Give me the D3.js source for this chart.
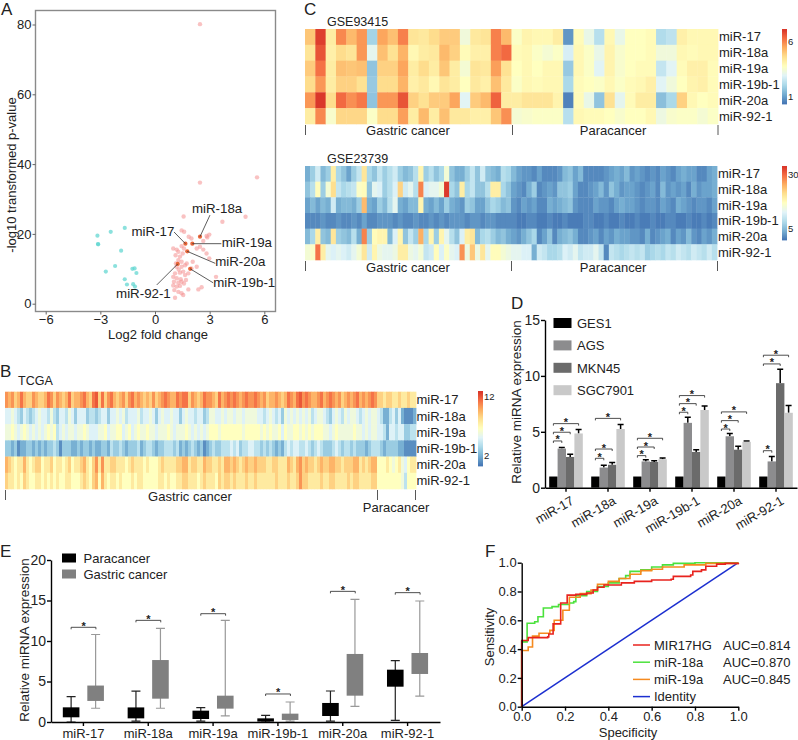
<!DOCTYPE html>
<html><head><meta charset="utf-8">
<script src="https://cdn.jsdelivr.net/npm/d3@7/dist/d3.min.js"></script>
<style>html,body{margin:0;padding:0;background:#fff}svg{display:block}
text{font-family:"Liberation Sans",Arial,sans-serif;fill:#222}</style></head><body>
<div id="c"></div>
<script>
// ---------- data ----------
const volcanoDownX=[-3.16,-3.13,-3.12,-2.43,-1.66,-1.86,-2.19,-2.7,-1.24,-1.12,-1.02,-1.66,-1.54,-1.2,-1.1];
const volcanoDownY=[19.5,17.1,17.0,20.6,21.7,15.2,10.8,9.2,10,10.1,8.8,7,5.5,5.6,4.9];
const volcanoUpX=[2.47,2.47,5.6,4.97,3.7,1.57,3.35,2.56,2.38,1.46,1.6,1.85,2.0,2.65,2.83,2.98,2.87,2.29,2.47,2.65,2.83,2.98,1.0,1.19,1.28,1.13,1.37,1.52,1.59,1.46,1.19,1.3,1.46,1.65,1.1,1.37,1.55,1.83,1.0,1.19,1.41,1.65,1.04,1.28,1.46,1.7,1,1.19,1.37,1.59,1.06,1.28,1.46,1.1,1.55,1.83,2.07,2.29,1.46,1.28,1.74,2,1.15];
const volcanoUpY=[80.1,34.7,36.2,24.9,23.5,25,7.7,4.7,4.1,21,20.6,19.2,18.7,18,19.4,19.8,19,15.8,16.3,15.5,14.4,13,15.8,15.5,14.9,13.9,13.5,14.4,15.8,16.5,10.6,9.8,10.6,11,8.7,8.9,9.2,8.7,7.7,7.3,7,8.2,6.3,6,6.3,6.8,5.2,4.9,5.1,5.8,3.9,3.4,3,1.7,2.5,4.1,12,10.6,12,12.5,11.5,10.1,11.5];
const mirNames=["miR-17","miR-18a","miR-19a","miR-19b-1","miR-20a","miR-92-1"];
const highlightX=[1.67,2.47,2.05,1.93,1.77,1.25];
const highlightY=[17.2,19.2,17.2,10,15,11.4];

const tcga17=[11,10,11,9,10,12,10,9,9,11,10,9,9,10,12,11,9,11,10,9,10,12,9,10,10,11,12,10,9,12,13,9,12,9,11,12,10,9,10,11,9,11,12,10,11,10,9,10,9,11,9,10,11,12,11,10,10,12,11,12,12,9,11,10,9,10,12,11,11,10,9,12,10,11,12,11,12,11,10,11,12,11,11,12,11,10,11,9,10,10,11,10,9,10,12,11,10,12,13,11,12,11,10,10,11,12,10,11,12,11,10,11,9,10,11,10,11,12,10,11,10,11,12,11,9,9,8,9,9,8,8,9,8,8,9,8,8];
const tcga18a=[5,5,6,5,4,3,5,4,3,4,5,6,5,5,4,6,4,3,5,5,4,6,5,3,5,5,5,3,4,4,3,4,5,5,3,5,5,6,5,6,4,5,5,5,6,4,5,5,6,5,3,5,6,5,5,6,5,5,3,5,6,5,5,4,5,5,3,4,6,6,5,5,6,5,6,6,5,6,6,5,6,6,6,6,5,5,4,5,6,5,4,5,3,6,5,6,5,6,5,6,5,6,4,5,6,6,5,4,3,5,6,5,4,6,5,6,6,5,4,5,6,5,6,6,5,4,2,2,4,5,3,5,2,1,1,1,2];
const tcga19a=[6,6,7,6,5,6,7,6,5,6,5,6,5,6,7,6,7,4,5,6,5,6,6,5,6,6,7,6,5,5,5,6,6,7,5,6,6,7,7,5,6,7,5,6,7,6,6,7,6,6,5,6,6,6,7,6,5,6,6,6,7,6,5,6,5,6,5,6,7,7,7,6,7,7,7,7,7,7,7,6,7,7,7,7,7,6,7,6,7,6,6,7,5,7,6,6,7,7,6,7,6,7,6,7,7,7,6,6,5,6,7,6,6,6,6,6,7,6,6,5,6,5,6,6,5,5,4,2,5,5,4,5,5,3,3,4,4];
const tcga19b1=[3,3,2,3,1,2,2,3,3,2,3,2,3,2,3,3,4,3,1,3,3,3,2,2,3,2,3,3,2,3,2,2,3,3,2,4,3,3,4,3,2,3,3,3,4,2,3,4,4,3,2,3,3,4,4,4,3,4,2,3,2,3,4,3,2,3,1,2,3,4,3,3,4,4,4,5,4,5,3,4,4,5,5,4,4,3,4,3,4,3,2,3,2,4,5,4,5,5,4,4,5,4,3,4,5,4,3,3,3,4,5,4,3,4,4,3,4,3,3,3,2,3,4,4,4,3,2,3,3,3,3,2,2,1,1,1,1];
const tcga20a=[10,9,8,7,8,8,10,8,7,8,9,9,7,8,8,9,7,8,8,7,8,9,7,8,8,9,10,8,7,9,11,8,11,8,8,9,9,8,8,8,7,8,9,8,8,8,7,8,7,7,7,8,9,8,8,8,8,9,9,10,10,8,9,9,8,8,10,9,9,8,8,9,8,10,10,9,10,9,8,9,10,9,9,10,9,9,9,8,8,9,9,8,8,8,10,9,8,10,11,9,10,9,9,8,9,10,9,9,10,10,9,9,8,9,9,9,10,10,8,9,8,9,10,10,7,7,7,8,7,6,7,8,6,5,7,8,8];
const tcga92=[9,8,8,7,8,7,9,8,7,7,8,8,7,8,7,8,7,8,7,7,8,8,7,7,7,8,9,8,7,9,10,7,10,8,7,8,8,7,8,7,7,7,8,7,8,8,7,7,7,7,7,8,8,7,8,7,7,8,8,9,9,8,8,8,7,8,9,8,8,8,7,9,8,9,9,8,9,8,8,8,9,8,8,9,8,8,8,8,8,8,9,8,8,8,9,8,8,9,11,9,9,8,8,8,8,9,8,8,9,9,8,8,8,8,9,8,9,9,8,8,8,8,9,9,7,7,7,7,7,7,7,7,6,4,7,7,7];

const g93_17=[5.0,6.9,4.2,5.9,5.2,5.7,1.9,5.5,5.1,6.0,4.4,4.3,4.6,4.9,4.9,3.3,4.3,4.4,6.0,5.2,3.6,4.0,3.9,3.9,4.2,0.8,3.8,3.1,2.2,3.9,3.1,3.7,3.7,3.8,2.1,2.3,4.1,3.9,3.9,3.9];
const g93_18a=[4.4,6.6,4.1,4.6,4.4,5.7,3.0,5.1,4.5,5.3,3.9,4.2,4.3,5.2,4.8,3.8,4.1,4.1,6.0,6.3,3.8,3.9,3.6,3.4,3.6,2.7,3.9,3.6,3.1,4.0,3.5,3.7,3.7,3.8,3.3,3.3,3.9,3.8,3.9,3.9];
const g93_19a=[4.9,6.2,4.2,5.1,5.0,5.1,1.6,4.8,4.8,5.5,4.2,4.6,4.2,5.0,4.2,3.4,4.4,4.3,5.6,4.5,3.7,3.9,3.7,3.9,3.9,1.7,3.9,3.6,2.9,4.0,3.5,3.7,3.8,3.8,2.4,2.9,3.8,4.1,4.1,3.8];
const g93_19b1=[4.6,5.7,4.2,4.8,4.8,4.5,1.7,4.6,4.6,5.3,4.1,4.3,3.9,4.4,4.2,3.7,4.3,4.1,5.1,4.3,3.6,3.9,3.8,3.9,3.9,2.0,3.8,3.7,3.6,3.9,3.6,3.8,3.9,4.1,2.9,3.3,3.7,4.0,4.1,3.8];
const g93_20a=[5.7,7.0,4.6,6.3,5.8,6.1,1.6,5.7,5.7,6.6,4.8,4.5,4.9,4.9,5.5,2.9,4.9,5.2,6.4,4.2,4.2,4.4,4.4,4.4,4.0,0.5,3.8,3.1,1.6,4.5,3.0,3.8,4.2,4.2,1.5,2.0,4.8,3.9,3.7,3.8];
const g93_92=[4.2,5.9,3.5,4.7,4.7,4.7,3.6,4.6,4.6,5.6,4.2,5.2,4.2,5.1,4.3,4.3,4.1,4.1,5.0,5.8,3.4,3.5,3.6,3.6,3.6,2.2,3.9,3.8,3.8,3.7,3.5,3.7,3.7,3.9,3.2,3.5,3.6,3.6,3.4,3.6];

const g23_17=[4,7,11,5,7,19,8,6,3,7,10,20,8,6,10,7,9,11,7,5,6,9,18,7,9,6,8,15,6,4,4,7,10,6,11,6,5,4,9,8,5,3,2,2,1,3,1,1,1,2,5,6,3,5,1,1,1,1,2,3,4,3,5,2,3,2,1,2,1,3,2,1,3,4,3,3,1,1,3,4];
const g23_18a=[6,9,17,7,15,21,10,8,9,10,16,17,6,13,12,7,9,12,22,11,13,9,28,12,13,13,15,33,8,6,19,8,10,6,6,9,19,19,8,6,3,2,1,4,7,1,2,3,2,6,6,7,3,1,1,2,3,5,2,6,4,2,3,3,2,1,2,3,1,5,2,3,2,3,1,4,2,3,3,4];
const g23_19a=[3,5,3,5,4,11,4,5,5,4,7,24,4,3,7,5,9,13,4,3,5,5,18,4,3,5,3,7,4,3,2,7,6,3,3,6,8,7,5,6,2,1,3,2,3,1,1,4,3,4,5,6,2,1,1,1,3,2,2,1,3,4,3,3,2,1,2,2,1,3,2,1,4,3,2,1,2,2,1,3];
const g23_19b1=[1,1,1,2,1,1,2,1,1,2,1,3,1,1,2,2,2,1,2,1,1,2,1,1,2,1,2,1,2,2,2,1,2,2,1,2,2,1,1,1,1,0,0,1,1,0,0,1,0,0,1,0,0,0,1,1,0,0,1,0,0,1,0,0,1,0,0,1,0,0,1,1,0,0,1,0,0,1,0,1];
const g23_20a=[5,8,19,6,5,20,7,6,5,9,4,28,7,17,18,18,5,12,18,6,10,7,25,8,18,7,18,13,9,6,12,19,20,5,8,9,7,5,6,4,3,2,4,6,8,1,3,6,1,4,5,6,4,1,1,2,3,1,3,2,4,3,3,2,2,1,4,1,2,3,4,1,3,2,5,2,1,3,2,4];
const g23_92=[15,16,29,19,13,12,13,12,11,13,15,20,11,18,14,13,13,14,19,19,14,13,15,10,11,17,12,16,13,12,27,14,23,14,20,13,17,17,15,14,13,13,12,12,4,11,10,8,8,9,12,11,13,10,11,11,13,10,1,10,9,8,9,10,9,10,7,8,9,8,10,9,11,10,9,11,10,9,11,9];

const heatColors=["#4575b4","#74add1","#abd9e9","#e0f3f8","#ffffbf","#fee090","#fdae61","#f46d43","#d73027"];
const tcgaStops=[.3,1.89,3.48,5.06,7,8.5,10.2,12.2,14.5];

const cellSeries=["GES1","AGS","MKN45","SGC7901"];
const cellGES1=[1,1,1,1,1,1];
const cellAGS=[3.5,1.8,2.35,5.8,4.6,2.35];
const cellMKN45=[2.75,2.05,2.3,3.2,3.4,9.35];
const cellSGC=[4.85,5.25,2.55,6.95,4.1,6.7];
const errGES1=[0,0,0,0,0,0];
const errAGS=[.1,.2,.15,.5,.25,.45];
const errMKN45=[.25,.2,.12,.2,.3,1.25];
const errSGC=[.35,.4,.1,.35,.07,.65];
const cellBracketA=[4.18,2.63,2.87,6.75,5.25,3.31];
const cellBracketB=[4.96,3.46,3.64,7.52,6,11.07];
const cellBracketC=[5.73,6.2,4.42,8.24,6.78,11.85];
const cellTicks=[0,5,10,15];

const boxParaHi=[3.13,3.8,1.77,.82,3.83,7.57];
const boxParaQ3=[1.81,1.8,1.4,.45,2.35,6.46];
const boxParaQ1=[.58,.45,.37,.05,.74,4.36];
const boxParaLo=[0,.1,.1,0,.1,.2];
const boxGasHi=[10.8,11.56,12.55,2.47,15.14,14.94];
const boxGasQ3=[4.5,7.65,3.25,1.03,8.4,8.52];
const boxGasQ1=[2.6,2.88,1.65,.25,3.25,5.93];
const boxGasLo=[1.7,1.7,.75,.12,1.93,3.2];
const boxBracket=[11.69,12.55,13.37,3.46,16.13,15.97];
const boxTicks=[0,5,10,15,20];

const rocRedX=[0,0,.03,.03,.08,.12,.125,.145,.145,.18,.18,.21,.21,.25,.3,.33,.35,.38,.46,.46,.52,.6,.69,.7,.78,.79,.83,.85,.9,.94,1];
const rocRedY=[0,.46,.46,.48,.48,.485,.505,.505,.575,.575,.72,.72,.775,.78,.79,.81,.83,.845,.845,.86,.87,.88,.885,.905,.915,.94,.95,.975,.99,.995,1];
const rocGreenX=[0,0,.02,.025,.06,.075,.095,.1,.14,.17,.22,.24,.25,.3,.35,.4,.45,.48,.5,.55,.6,.65,.7,.8,1];
const rocGreenY=[0,.45,.45,.58,.59,.625,.625,.685,.695,.71,.72,.73,.77,.8,.835,.86,.89,.91,.94,.95,.97,.985,.995,1,1];
const rocOrangeX=[0,0,.03,.03,.05,.05,.08,.13,.15,.18,.19,.22,.22,.27,.32,.35,.4,.45,.5,.55,.6,.65,.75,.85,1];
const rocOrangeY=[0,.39,.39,.415,.42,.49,.51,.53,.6,.6,.67,.69,.76,.785,.81,.85,.87,.89,.92,.945,.955,.97,.985,.995,1];
const rocTicks=[0,.2,.4,.6,.8,1];
const rocLabels=["MIR17HG","miR-18a","miR-19a","Identity"];
const rocAuc=["AUC=0.814","AUC=0.870","AUC=0.845",""];

// ---------- helpers ----------
const svg=d3.select("#c").append("svg").attr("width",798).attr("height",740);
const defs=svg.append("defs");
defs.append("filter").attr("id","hb").attr("x","-2%").attr("width","104%").append("feGaussianBlur").attr("stdDeviation","0.7 0");
const txt=(x,y,s,size=13,anchor="start",g=svg)=>g.append("text").attr("x",x).attr("y",y).attr("font-size",size).attr("text-anchor",anchor).text(s);
const vtxt=(x,y,s,size=13)=>svg.append("text").attr("transform",`translate(${x},${y}) rotate(-90)`).attr("font-size",size).attr("text-anchor","middle").text(s);
function styleAxis(g,size=13,col="#000",w=1.4){
  g.selectAll("path,line").attr("stroke",col).attr("stroke-width",w);
  g.selectAll("text").attr("font-size",size).attr("fill","#222").attr("font-family",'"Liberation Sans",Arial,sans-serif');
}
[["A",1,14.5],["B",0,377],["C",304,15],["D",511,309],["E",0,557],["F",485,557]].forEach(d=>txt(d[1],d[2],d[0],17));

// ---------- A volcano ----------
(function(){
  const x=d3.scaleLinear([-6,6],[45.7,264.3]), y=d3.scaleLinear([0,80],[303.7,24.5]);
  const fx0=35.5,fx1=275.5,fy0=10.5,fy1=311.5;
  svg.append("rect").attr("x",fx0).attr("y",fy0).attr("width",fx1-fx0).attr("height",fy1-fy0).attr("fill","none").attr("stroke","#8a8a8a").attr("stroke-width",1.4);
  const ax=svg.append("g").attr("transform",`translate(0,${fy1})`).call(d3.axisBottom(x).tickValues([-6,-3,0,3,6]).tickSize(3).tickPadding(0).tickSizeOuter(0).tickFormat(d3.format("d")));
  ax.select(".domain").remove(); styleAxis(ax,13,"#666",1);
  const ay=svg.append("g").attr("transform",`translate(${fx0},0)`).call(d3.axisLeft(y).tickValues([0,20,40,60,80]).tickSize(3).tickPadding(1).tickFormat(d3.format("d")));
  ay.select(".domain").remove(); styleAxis(ay,13,"#666",1);
  txt(158,338.5,"Log2 fold change",13,"middle"); vtxt(16,175,"-log10 transformed p-value",13);
  svg.append("g").selectAll("circle").data(volcanoDownX).join("circle").attr("cx",d=>x(d)).attr("cy",(d,i)=>y(volcanoDownY[i])).attr("r",2.1).attr("fill","#5ed6d0").attr("opacity",.72);
  svg.append("g").selectAll("circle").data(volcanoUpX).join("circle").attr("cx",d=>x(d)).attr("cy",(d,i)=>y(volcanoUpY[i])).attr("r",2.2).attr("fill","#f48f8f").attr("opacity",.55);
  svg.append("g").selectAll("circle").data(highlightX).join("circle").attr("cx",d=>x(d)).attr("cy",(d,i)=>y(highlightY[i])).attr("r",2.1).attr("fill","#e8663a");
  // label offsets relative to each highlighted point: leader start dx,dy ; text dx,dy ; anchor
  const labelLayout={"miR-17":[-11.4,-11.7,-11,-7.5,"end"],"miR-18a":[10,-21.6,-8,-23.6,"start"],"miR-19a":[29,0,29.4,3.5,"start"],"miR-20a":[28,12,28,14.7,"start"],"miR-19b-1":[23,14,23,18,"start"],"miR-92-1":[-21,21,-7,34,"end"]};
  mirNames.forEach((n,i)=>{const L=labelLayout[n],px=x(highlightX[i]),py=y(highlightY[i]);
    svg.append("line").attr("x1",px+L[0]).attr("y1",py+L[1]).attr("x2",px).attr("y2",py).attr("stroke","#333").attr("stroke-width",.8);
    txt(px+L[2],py+L[3],n,13.3,L[4]);});
})();

// ---------- heatmaps ----------
function heatmap(rows,x0,x1,y0,y1,domain,opts){
  const n=rows[0].length;
  const x=d3.scaleBand(d3.range(n),[x0,x1]), y=d3.scaleBand(mirNames,[y0,y1]);
  const stops=d3.range(heatColors.length).map(i=>domain[0]+(domain[1]-domain[0])*i/(heatColors.length-1));
  const legendCol=d3.scaleLinear(stops,heatColors).clamp(true);
  const col=d3.scaleLinear(opts.stops||stops,heatColors).clamp(true);
  const host=svg.append("g").attr("filter",opts.blur?"url(#hb)":null);
  mirNames.forEach((m,r)=>{
    host.append("g").selectAll("rect").data(rows[r]).join("rect").attr("x",(d,i)=>x(i)).attr("y",y(m)).attr("width",x.bandwidth()+.4).attr("height",y.bandwidth()+.3).attr("fill",d=>col(d));
    txt(x1+opts.labelGap,y(m)+y.bandwidth()/2+4.5,m,opts.labelSize||13);
  });
  const ly=d3.scaleLinear(domain,[opts.ly1,opts.ly0]);
  svg.append("g").selectAll("rect").data(d3.range(domain[0],domain[1],(domain[1]-domain[0])/75)).join("rect").attr("x",opts.lx).attr("width",5).attr("y",d=>ly(d)-1).attr("height",1.4).attr("fill",d=>legendCol(d));
  opts.legendTicks.forEach(t=>txt(opts.lx+6,ly(t)+3.5,t,9.5));
  return x;
}
heatmap([tcga17,tcga18a,tcga19a,tcga19b1,tcga20a,tcga92],5,416,391.7,489,[.3,13],{labelGap:.5,lx:478,ly0:391,ly1:466,legendTicks:[12,2],stops:tcgaStops,blur:true});
heatmap([g93_17,g93_18a,g93_19a,g93_19b1,g93_20a,g93_92],305,718,29,124,[.3,7.1],{labelGap:1,lx:782,ly0:29,ly1:104,legendTicks:[6,1]});
heatmap([g23_17,g23_18a,g23_19a,g23_19b1,g23_20a,g23_92],305,717,166,260,[-.5,33.7],{labelGap:1,lx:782,ly0:166,ly1:240,legendTicks:[30,5]});
txt(18,385,"TCGA",12.5); txt(327,26,"GSE93415",12.5); txt(327,163,"GSE23739",12.5);
function ticks(xs,y0,y1){xs.forEach(v=>svg.append("line").attr("x1",v).attr("x2",v).attr("y1",y0).attr("y2",y1).attr("stroke","#444").attr("stroke-width",.9));}
ticks([5.5,377.5,415.5],490,500); txt(190,501,"Gastric cancer",13,"middle"); txt(396,512,"Paracancer",13,"middle");
ticks([305.5,512.5,718],125,135); txt(408,135,"Gastric cancer",13,"middle"); txt(613,135,"Paracancer",13,"middle");
ticks([305.5,511.5,717.5],261,271); txt(408,272,"Gastric cancer",13,"middle"); txt(613,272,"Paracancer",13,"middle");

function bracket(x0,x1,yy,g=svg){
  g.append("path").attr("d",`M${x0},${yy+2}V${yy}H${x1}V${yy+2}`).attr("fill","none").attr("stroke","#222").attr("stroke-width",.8);
  g.append("text").attr("x",(x0+x1)/2).attr("y",yy+2.5).attr("font-size",11).attr("text-anchor","middle").attr("font-weight","bold").text("*");
}

// ---------- D bars ----------
(function(){
  const x=d3.scaleBand(mirNames,[545,797]), y=d3.scaleLinear([0,15],[487.7,320]);
  const off=d3.scaleBand(cellSeries,[-16.8,16.8]);
  const colors=d3.scaleOrdinal(cellSeries,["#000","#8c8c8e","#6b6b6b","#c9c9c9"]);
  const vals=[cellGES1,cellAGS,cellMKN45,cellSGC], errs=[errGES1,errAGS,errMKN45,errSGC];
  cellSeries.forEach((s,k)=>{
    mirNames.forEach((m,i)=>{
      const cx=x(m)+x.bandwidth()/2, bx=cx+off(s), mid=bx+off.bandwidth()/2;
      if(errs[k][i]>0){
        svg.append("path").attr("d",`M${mid},${y(vals[k][i])}V${y(vals[k][i]+errs[k][i])}M${mid-3},${y(vals[k][i]+errs[k][i])}H${mid+3}`).attr("stroke","#000").attr("stroke-width",1.5).attr("fill","none");
      }
      svg.append("rect").attr("x",bx).attr("y",y(vals[k][i])).attr("width",off.bandwidth()).attr("height",y(0)-y(vals[k][i])).attr("fill",colors(s));
    });
  });
  mirNames.forEach((m,i)=>{
    const cx=x(m)+x.bandwidth()/2, c=s=>cx+off(s)+off.bandwidth()/2;
    bracket(c("GES1"),c("AGS"),y(cellBracketA[i]));
    bracket(c("GES1"),c("MKN45"),y(cellBracketB[i]));
    bracket(c("GES1"),c("SGC7901"),y(cellBracketC[i]));
  });
  const ax=svg.append("g").attr("transform",`translate(0,${y(0)})`).call(d3.axisBottom(x).tickSize(4).tickSizeOuter(0));
  styleAxis(ax,13);
  ax.selectAll("text").attr("text-anchor","end").attr("transform","translate(2,4) rotate(-30)").attr("dy","0.5em");
  const ay=svg.append("g").attr("transform","translate(545,0)").call(d3.axisLeft(y).tickValues(cellTicks).tickSize(4).tickSizeOuter(0).tickPadding(1));
  styleAxis(ay,14);
  vtxt(521,402,"Relative miRNA expression",13.5);
  cellSeries.forEach((s,i)=>{
    const yy=318+22.4*i;
    svg.append("rect").attr("x",553.5).attr("y",yy).attr("width",18).attr("height",10).attr("fill",colors(s));
    txt(577,yy+10,s,13);
  });
})();

// ---------- E box plot ----------
(function(){
  const x=d3.scaleBand(mirNames,[51,440]), y=d3.scaleLinear([0,20],[722,560]);
  function box(m,dx,hi,q3,q1,lo,col,whisk){
    const c=x(m)+x.bandwidth()/2+dx;
    svg.append("path").attr("d",`M${c},${y(hi)}V${y(lo)}M${c-4.5},${y(hi)}H${c+4.5}M${c-4.5},${y(lo)}H${c+4.5}`).attr("stroke",whisk).attr("stroke-width",1.2).attr("fill","none");
    svg.append("rect").attr("x",c-8.3).attr("width",16.6).attr("y",y(q3)).attr("height",y(q1)-y(q3)).attr("fill",col);
  }
  mirNames.forEach((m,i)=>{
    box(m,-12.3,boxParaHi[i],boxParaQ3[i],boxParaQ1[i],boxParaLo[i],"#000","#222");
    box(m,12.2,boxGasHi[i],boxGasQ3[i],boxGasQ1[i],boxGasLo[i],"#808080","#999");
    const c=x(m)+x.bandwidth()/2; bracket(c-12.3,c+12.5,y(boxBracket[i]));
  });
  const ax=svg.append("g").attr("transform",`translate(0,${y(0)})`).call(d3.axisBottom(x).tickSize(4).tickSizeOuter(0).tickPadding(3));
  styleAxis(ax,13);
  const ay=svg.append("g").attr("transform","translate(51,0)").call(d3.axisLeft(y).tickValues(boxTicks).tickSize(4).tickSizeOuter(0).tickPadding(1));
  styleAxis(ay,14);
  vtxt(29,640,"Relative miRNA expression",13.5);
  [["Paracancer","#000",553.5,563],["Gastric cancer","#808080",569.5,578.5]].forEach(d=>{
    svg.append("rect").attr("x",62).attr("y",d[2]).attr("width",14).attr("height",9).attr("fill",d[1]);
    txt(83.5,d[3],d[0],13);
  });
})();

// ---------- F ROC ----------
(function(){
  const x=d3.scaleLinear([0,1],[521.7,738.3]), y=d3.scaleLinear([0,1],[706.7,562.7]);
  const line=d3.line().x(d=>x(d[0])).y(d=>y(d[1]));
  const cols=["#e8231e","#4be23c","#f58a1f","#1c2fd0"];
  svg.append("path").attr("d",line([[0,0],[1,1]])).attr("stroke",cols[3]).attr("stroke-width",1.5).attr("fill","none");
  const step=d3.line().x(d=>x(d[0])).y(d=>y(d[1])).curve(d3.curveStepAfter);
  [[rocGreenX,rocGreenY,1],[rocOrangeX,rocOrangeY,2],[rocRedX,rocRedY,0]].forEach(s=>{
    svg.append("path").attr("d",step(s[0].map((v,i)=>[v,s[1][i]]))).attr("stroke",cols[s[2]]).attr("stroke-width",1.6).attr("fill","none");
  });
  const ax=svg.append("g").attr("transform",`translate(0,${y(0)})`).call(d3.axisBottom(x).tickValues(rocTicks).tickSize(4).tickSizeOuter(0).tickPadding(1).tickFormat(d3.format(".1f")));
  styleAxis(ax,13);
  const ay=svg.append("g").attr("transform",`translate(${x(0)},0)`).call(d3.axisLeft(y).tickValues(rocTicks).tickSize(4).tickSizeOuter(0).tickPadding(1).tickFormat(d3.format(".1f")));
  styleAxis(ay,13);
  txt(628,737,"Specificity",13,"middle"); vtxt(494,637,"Sensitivity",13);
  rocLabels.forEach((l,i)=>{
    const yy=645+17.2*i;
    svg.append("line").attr("x1",633).attr("x2",650).attr("y1",yy).attr("y2",yy).attr("stroke",cols[i]).attr("stroke-width",1.5);
    txt(654,yy+4.5,l,13); if(rocAuc[i]) txt(723,yy+4.5,rocAuc[i],13);
  });
})();
</script></body></html>
